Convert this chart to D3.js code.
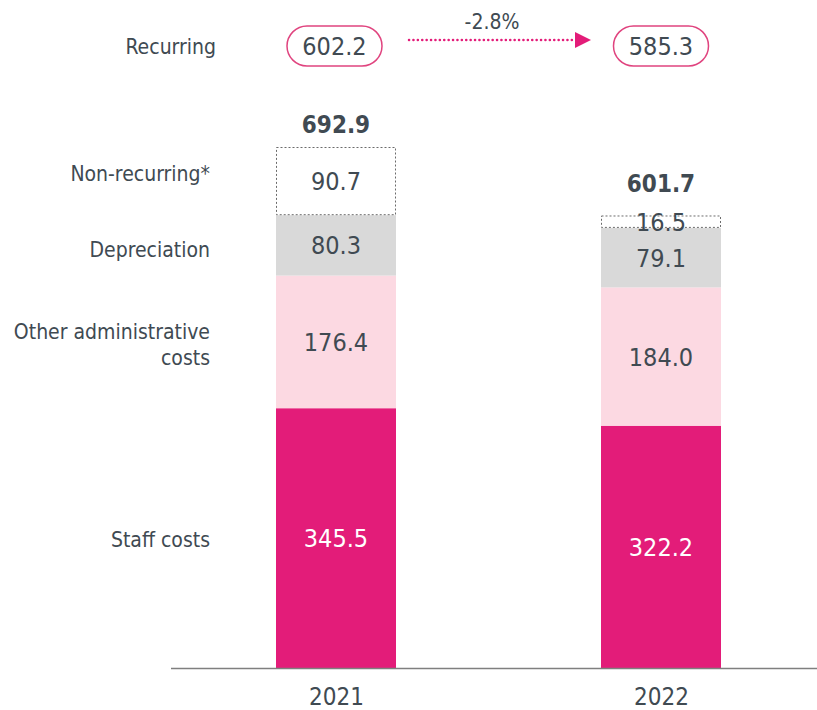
<!DOCTYPE html>
<html>
<head>
<meta charset="utf-8">
<script src="https://cdn.jsdelivr.net/npm/d3@7"></script>
<style>
  html, body { margin: 0; padding: 0; background: #fff; }
  svg { display: block; }
  text { font-family: "DejaVu Sans Condensed", "DejaVu Sans", sans-serif; fill: #404a52; }
</style>
</head>
<body>
<svg id="chart" width="817" height="710"></svg>
<script>
// Operating expenses by component, EUR million
const years = ["2021", "2022"];
const segments = ["Staff costs", "Other administrative costs", "Depreciation", "Non-recurring*"];
const staffCosts = [345.5, 322.2];
const otherAdmin = [176.4, 184.0];
const depreciation = [80.3, 79.1];
const nonRecurring = [90.7, 16.5];
const totals = [692.9, 601.7];
const recurring = [602.2, 585.3];
const recurringChange = "-2.8%";

const seriesValues = [staffCosts, otherAdmin, depreciation, nonRecurring];
const fills = ["#e31c79", "#fcd9e2", "#d9d9d9", "#ffffff"];
const labelColors = ["#ffffff", "#404a52", "#404a52", "#404a52"];

const svg = d3.select("#chart");

const xPos = d3.scalePoint().domain(years).range([336, 661]);
const barW = 120;
const y = d3.scaleLinear().domain([0, 692.9]).range([668, 147]);

// stacked layout
const rows = years.map((yr, i) => {
  const r = { year: yr };
  segments.forEach((s, k) => { r[s] = seriesValues[k][i]; });
  return r;
});
const stacked = d3.stack().keys(segments)(rows);

const g = svg.append("g");

stacked.forEach((layer, k) => {
  layer.forEach((d, i) => {
    const x0 = xPos(years[i]) - barW / 2;
    const top = y(d[1]), bot = y(d[0]);
    const dashed = k === 3;
    g.append("rect")
      .attr("x", dashed ? x0 + 0.5 : x0)
      .attr("y", dashed ? top + 0.5 : top)
      .attr("width", dashed ? barW - 1 : barW)
      .attr("height", dashed ? Math.max(0, bot - top - 1) : bot - top)
      .attr("fill", fills[k])
      .attr("stroke", dashed ? "#6b6b6b" : "none")
      .attr("stroke-width", dashed ? 1 : 0)
      .attr("stroke-dasharray", dashed ? "2,2" : null);
    g.append("text")
      .attr("x", xPos(years[i]))
      .attr("y", (top + bot) / 2)
      .attr("dy", "0.36em")
      .attr("text-anchor", "middle")
      .attr("font-size", 25)
      .style("fill", labelColors[k])
      .text(d.data[segments[k]].toFixed(1));
  });
});

// totals above each bar; raised when the top segment's label spills over it
totals.forEach((t, i) => {
  const topLayer = stacked[3][i];
  const segMid = (y(topLayer[1]) + y(topLayer[0])) / 2;
  const labelTop = Math.min(y(t), segMid - 16);
  g.append("text")
    .attr("x", xPos(years[i]))
    .attr("y", labelTop - 14)
    .attr("text-anchor", "middle")
    .attr("font-size", 24)
    .attr("font-weight", "bold")
    .text(t.toFixed(1));
});

// baseline axis with year labels
const axis = d3.axisBottom(xPos).tickSize(0).tickPadding(20);
const ax = svg.append("g").attr("transform", `translate(0,${y(0)})`).call(axis);
ax.select(".domain").attr("d", "M171,0.5H817").attr("stroke", "#7f7f7f").attr("stroke-width", 1.5);
ax.selectAll(".tick text")
  .attr("font-size", 24)
  .attr("font-family", "DejaVu Sans Condensed, DejaVu Sans, sans-serif")
  .style("fill", "#404a52");

// category labels aligned with the first bar's segments
const catOffsets = [1, 3, 4, -8];
segments.forEach((s, k) => {
  const d = stacked[k][0];
  const cy = (y(d[0]) + y(d[1])) / 2 + catOffsets[k];
  const t = svg.append("text")
    .attr("x", 210)
    .attr("text-anchor", "end")
    .attr("font-size", 21);
  if (s === "Other administrative costs") {
    t.append("tspan").attr("x", 210).attr("y", cy - 13).attr("dy", "0.36em").text("Other administrative");
    t.append("tspan").attr("x", 210).attr("y", cy + 13).attr("dy", "0.36em").text("costs");
  } else {
    t.attr("y", cy).attr("dy", "0.36em").text(s);
  }
});

// recurring row: pills, dotted arrow and change
const pillY = 46;
svg.append("text").attr("x", 216).attr("y", pillY).attr("dy", "0.36em")
  .attr("text-anchor", "end").attr("font-size", 21).text("Recurring");

recurring.forEach((v, i) => {
  const cx = xPos(years[i]) - (i === 0 ? 1.5 : 0);
  svg.append("rect")
    .attr("x", cx - 47.5).attr("y", pillY - 20)
    .attr("width", 95).attr("height", 40).attr("rx", 20)
    .attr("fill", "#fff").attr("stroke", "#e0447f").attr("stroke-width", 1.5);
  svg.append("text").attr("x", cx).attr("y", pillY).attr("dy", "0.36em")
    .attr("text-anchor", "middle").attr("font-size", 25).text(v.toFixed(1));
});

svg.append("line")
  .attr("x1", 409).attr("x2", 577).attr("y1", 40).attr("y2", 40)
  .attr("stroke", "#e31c79").attr("stroke-width", 2.5)
  .attr("stroke-dasharray", "0.1,4.3").attr("stroke-linecap", "round");
svg.append("path")
  .attr("d", "M575,32 L591,40 L575,48 Z")
  .attr("fill", "#e31c79");
svg.append("text").attr("x", 492).attr("y", 29)
  .attr("text-anchor", "middle").attr("font-size", 21).text(recurringChange);
</script>
</body>
</html>
